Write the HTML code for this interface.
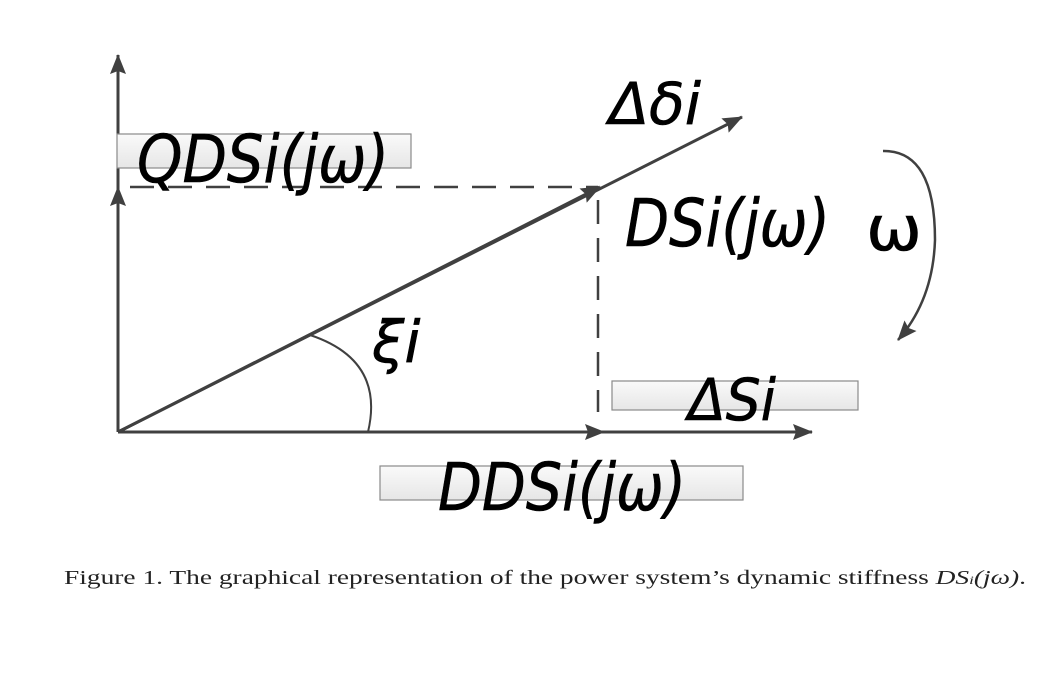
<!DOCTYPE html>
<html><head><meta charset="utf-8"><style>
html,body{margin:0;padding:0;background:#fff;width:1059px;height:675px;overflow:hidden}
svg{display:block}
.t{font-family:"DejaVu Sans","Liberation Sans",sans-serif;font-style:italic;fill:#000;stroke:#000;stroke-width:0.6}
</style></head><body>
<svg width="1059" height="675" viewBox="0 0 1059 675" xmlns="http://www.w3.org/2000/svg">
<defs>
<linearGradient id="g" x1="0" y1="0" x2="0" y2="1"><stop offset="0" stop-color="#fafafa"/><stop offset="1" stop-color="#e6e6e6"/></linearGradient>
<marker id="b" markerWidth="20" markerHeight="16" refX="19" refY="8" orient="auto" markerUnits="userSpaceOnUse" viewBox="0 0 20 16"><path d="M0,0 L20,8 L0,16 L3,8 Z" fill="#404040"/></marker>
</defs>
<g stroke="#404040" stroke-width="3" fill="none">
<line x1="118" y1="432" x2="118" y2="55" marker-end="url(#b)"/>
<line x1="118" y1="432" x2="118" y2="187" marker-end="url(#b)"/>
<line x1="118" y1="432" x2="812" y2="432" marker-end="url(#b)"/>
<line x1="118" y1="432" x2="604" y2="432" marker-end="url(#b)"/>
<line x1="118" y1="432" x2="742" y2="117" marker-end="url(#b)"/>
<line x1="118" y1="432" x2="600" y2="187" marker-end="url(#b)"/>
<path d="M310,335 Q385,360 368,432" stroke-width="2"/>
<path d="M883,151 Q935,150 935,240 Q933,300 898,340" stroke-width="2.5" marker-end="url(#b)"/>
</g>
<g stroke="#404040" stroke-width="2.5" fill="none" stroke-dasharray="24,14">
<line x1="130" y1="187" x2="598" y2="187"/>
<line x1="598" y1="200" x2="598" y2="412"/>
</g>
<g stroke="#8a8a8a" stroke-width="1.2" fill="url(#g)">
<rect x="117" y="134" width="294" height="34"/>
<rect x="612" y="381" width="246" height="29"/>
<rect x="380" y="466" width="363" height="34"/>
</g>
<text class="t" x="137" y="182" font-size="66" textLength="252" lengthAdjust="spacingAndGlyphs">QDSi(jω)</text>
<text class="t" x="609" y="124" font-size="58" textLength="92" lengthAdjust="spacingAndGlyphs">Δδi</text>
<text class="t" x="625" y="246" font-size="66" textLength="205" lengthAdjust="spacingAndGlyphs">DSi(jω)</text>
<text x="866" y="250" font-size="62" font-family="DejaVu Sans,sans-serif" fill="#000" stroke="#000" stroke-width="0.6" textLength="56" lengthAdjust="spacingAndGlyphs">ω</text>
<text class="t" x="372" y="362" font-size="58">ξi</text>
<text class="t" x="688" y="420" font-size="58" textLength="88" lengthAdjust="spacingAndGlyphs">ΔSi</text>
<text class="t" x="438" y="510" font-size="66" textLength="248" lengthAdjust="spacingAndGlyphs">DDSi(jω)</text>
<text x="64" y="584" font-size="19.5" font-family="Liberation Serif,serif" fill="#222" textLength="962" lengthAdjust="spacingAndGlyphs">Figure 1. The graphical representation of the power system’s dynamic stiffness <tspan font-style="italic">DS<tspan font-size="12">i</tspan>(jω)</tspan>.</text>
</svg>
</body></html>
